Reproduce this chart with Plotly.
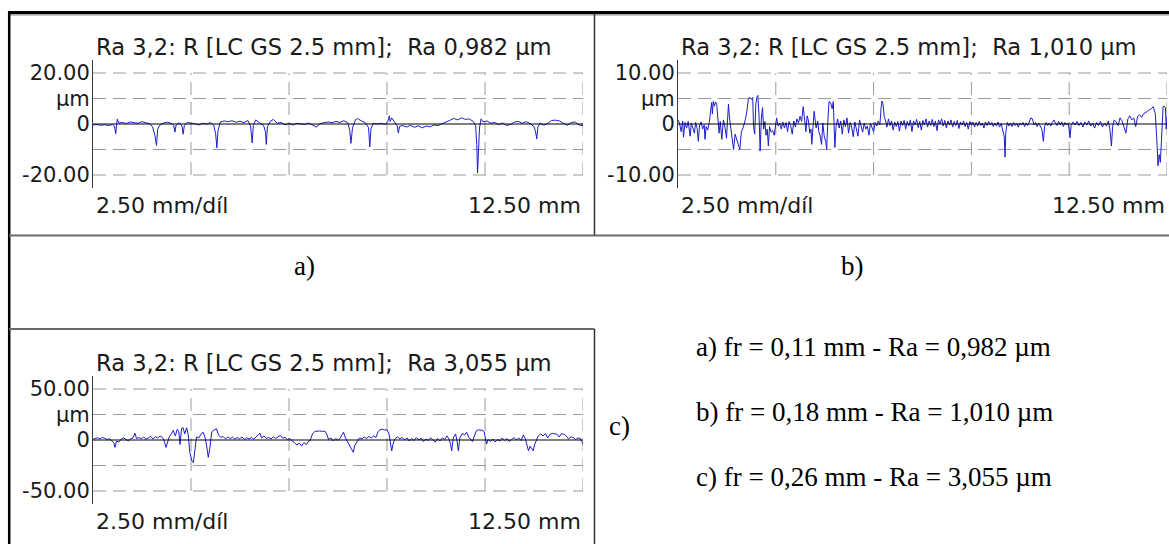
import plotly.graph_objects as go

W, H = 1169, 544

# ---------------- data (x in mm, profile height in µm) ----------------
a_x = [0.00,0.10,0.20,0.30,0.40,0.50,0.55,0.58,0.60,0.62,
       0.66,0.75,0.85,0.95,1.05,1.15,1.25,1.35,1.45,1.52,
       1.58,1.62,1.65,1.70,1.80,1.90,2.00,2.06,2.09,2.12,
       2.20,2.27,2.30,2.33,2.40,2.50,2.60,2.70,2.80,2.90,
       3.00,3.08,3.13,3.16,3.19,3.25,3.35,3.45,3.55,3.65,
       3.75,3.85,3.95,4.02,4.06,4.09,4.15,4.25,4.35,4.40,
       4.42,4.45,4.52,4.60,4.70,4.80,4.90,5.00,5.10,5.20,
       5.30,5.40,5.50,5.60,5.70,5.80,5.90,6.00,6.10,6.20,
       6.30,6.40,6.50,6.55,6.58,6.62,6.70,6.75,6.85,6.95,
       7.03,7.06,7.09,7.15,7.25,7.35,7.45,7.52,7.56,7.58,
       7.62,7.70,7.76,7.79,7.82,7.90,8.00,8.10,8.20,8.30,
       8.40,8.50,8.60,8.70,8.80,8.90,9.00,9.10,9.20,9.30,
       9.40,9.50,9.60,9.70,9.76,9.79,9.81,9.83,9.86,9.90,
       9.95,10.05,10.15,10.25,10.35,10.45,10.55,10.65,10.75,10.85,
       10.95,11.05,11.15,11.25,11.29,11.32,11.35,11.40,11.50,11.60,
       11.70,11.80,11.90,12.00,12.10,12.20,12.30,12.40,12.50]
a_y = [-0.4,-0.2,-0.5,-0.3,-0.6,-0.2,-0.8,-3.8,-0.5,1.9,
       0.4,0.6,0.2,0.8,0.5,0.3,0.9,0.4,0.1,-1.2,
       -4.5,-8.4,-2.0,-0.5,0.4,0.7,0.2,-0.6,-3.2,-0.4,
       0.5,-0.8,-4.0,-0.6,0.6,0.3,0.1,-0.4,0.3,0.0,
       0.6,-0.5,-4.0,-9.3,-2.5,0.8,1.2,0.9,1.3,0.7,
       1.1,0.5,1.4,-0.8,-7.4,-0.6,1.6,0.4,-0.5,-3.0,
       -8.0,-1.0,1.0,1.8,0.3,0.6,-0.3,0.2,-0.4,0.3,
       0.1,-0.2,0.4,-0.5,-1.2,0.2,0.6,0.8,0.5,1.0,
       0.6,1.3,0.4,-2.5,-7.6,-1.5,1.8,2.1,1.2,0.5,
       -1.5,-9.0,-2.0,0.3,0.0,0.3,-0.2,1.0,3.2,1.0,
       2.4,0.6,-0.8,-3.5,-0.9,-0.6,-1.2,-0.5,-1.3,-0.7,
       -1.5,-0.8,-1.1,-0.4,-0.6,0.1,0.6,1.4,2.2,1.6,
       2.4,1.8,2.0,1.0,-0.5,-8.0,-19.2,-12.0,-1.5,2.0,
       0.8,1.2,0.3,0.6,-0.2,0.4,-0.6,-0.2,0.8,1.0,
       0.3,0.9,0.2,-1.0,-3.0,-5.8,-1.2,0.3,-0.5,0.2,
       1.4,1.5,1.2,0.3,-0.5,0.6,0.8,-0.4,-0.6]

b_x = [0.00,0.04,0.08,0.12,0.14,0.18,0.22,0.26,0.29,0.31,
       0.34,0.38,0.42,0.45,0.49,0.52,0.55,0.59,0.63,0.67,
       0.69,0.72,0.76,0.80,0.83,0.86,0.88,0.90,0.93,0.96,
       0.99,1.02,1.05,1.08,1.12,1.16,1.20,1.24,1.27,1.29,
       1.32,1.36,1.40,1.42,1.46,1.50,1.54,1.58,1.62,1.67,
       1.72,1.76,1.80,1.84,1.88,1.91,1.93,1.96,1.99,2.02,
       2.04,2.07,2.10,2.13,2.16,2.19,2.22,2.25,2.28,2.31,
       2.34,2.38,2.42,2.46,2.50,2.52,2.56,2.60,2.64,2.68,
       2.72,2.76,2.80,2.84,2.88,2.92,2.96,3.00,3.04,3.08,
       3.12,3.16,3.20,3.23,3.27,3.30,3.33,3.37,3.40,3.42,
       3.45,3.48,3.50,3.53,3.57,3.60,3.63,3.67,3.70,3.74,
       3.78,3.80,3.83,3.86,3.90,3.94,3.97,3.99,4.01,4.04,
       4.08,4.12,4.16,4.20,4.24,4.28,4.32,4.36,4.40,4.44,
       4.48,4.52,4.56,4.60,4.64,4.68,4.72,4.76,4.80,4.84,
       4.88,4.92,4.96,5.00,5.04,5.08,5.12,5.16,5.19,5.21,
       5.24,5.27,5.30,5.34,5.38,5.42,5.46,5.50,5.54,5.58,
       5.62,5.66,5.70,5.74,5.78,5.82,5.86,5.90,5.94,5.98,
       6.02,6.06,6.10,6.14,6.18,6.22,6.26,6.30,6.34,6.38,
       6.42,6.46,6.50,6.54,6.58,6.62,6.66,6.70,6.74,6.78,
       6.82,6.86,6.90,6.94,6.98,7.02,7.06,7.10,7.14,7.18,
       7.22,7.26,7.30,7.34,7.38,7.42,7.46,7.50,7.54,7.58,
       7.62,7.66,7.70,7.74,7.78,7.82,7.86,7.90,7.94,7.98,
       8.02,8.06,8.10,8.14,8.18,8.22,8.26,8.30,8.34,8.36,
       8.38,8.42,8.46,8.50,8.54,8.58,8.62,8.66,8.70,8.74,
       8.78,8.82,8.86,8.90,8.94,8.98,9.02,9.06,9.10,9.14,
       9.18,9.22,9.26,9.30,9.34,9.37,9.41,9.45,9.49,9.53,
       9.57,9.61,9.65,9.69,9.73,9.77,9.81,9.85,9.89,9.93,
       9.97,10.00,10.02,10.05,10.10,10.15,10.20,10.25,10.30,10.35,
       10.40,10.45,10.50,10.55,10.60,10.65,10.70,10.75,10.80,10.85,
       10.90,10.95,11.00,11.04,11.08,11.11,11.15,11.20,11.25,11.30,
       11.35,11.40,11.45,11.50,11.55,11.60,11.65,11.70,11.75,11.80,
       11.85,11.90,11.95,12.00,12.05,12.10,12.15,12.20,12.24,12.27,
       12.30,12.33,12.36,12.38,12.40,12.43,12.46,12.48,12.50]
b_y = [0.8,0.2,-1.5,0.6,-2.6,0.3,-0.8,0.5,-1.2,-2.4,
       0.2,-0.6,-1.8,0.3,-0.9,-3.4,-0.4,0.4,-1.0,-0.2,
       -3.0,-0.5,-1.2,0.3,2.8,4.2,2.0,4.4,3.5,4.3,
       3.8,0.4,-1.8,0.5,-3.0,0.8,-0.6,-2.8,1.5,3.9,
       1.0,-1.4,-3.5,-5.0,-2.0,-3.2,-4.0,-5.0,-1.5,-0.6,
       0.8,2.5,5.0,5.2,4.8,5.2,-0.5,-2.0,4.0,5.3,
       5.6,2.0,-5.3,1.0,3.2,-1.0,0.5,-2.2,-1.0,-4.3,
       -0.5,-1.6,-1.3,-2.2,0.5,1.2,-0.4,0.2,-1.0,0.4,
       -0.8,0.3,-1.5,0.5,-0.3,-2.0,0.6,-0.6,1.0,0.2,
       1.5,0.5,3.4,1.0,-1.5,1.6,0.8,-1.8,-1.0,-4.0,
       0.5,2.5,1.2,-0.8,0.6,-1.5,-2.2,-4.0,0.2,-2.5,
       -3.5,-5.0,0.5,4.4,4.2,3.0,4.4,1.0,-4.6,-0.5,
       1.0,-0.8,0.6,-2.0,0.8,-0.5,1.2,-1.8,0.3,-0.6,
       -2.5,0.4,-1.2,-2.4,0.8,-0.5,-1.6,0.2,-1.0,-0.4,
       -2.2,0.1,-0.8,-1.5,0.3,-0.4,0.6,-0.2,3.0,4.5,
       4.0,1.5,0.8,-0.6,1.0,-0.3,0.6,-1.2,0.4,-0.5,
       0.5,-1.4,0.6,-0.3,0.7,-1.0,0.5,-0.4,0.8,-1.5,
       0.6,-0.2,0.9,-0.7,0.5,-1.2,0.7,-0.2,1.0,-0.6,
       0.6,-0.3,0.9,-0.5,0.6,-1.3,0.8,0.0,1.0,-0.4,
       0.7,-0.8,0.6,-0.2,0.8,-0.6,0.5,-0.3,0.7,-0.9,
       0.4,-0.2,0.6,-0.5,0.3,-1.0,0.5,-0.2,0.4,-0.6,
       0.3,-0.4,0.5,-0.3,0.2,-0.8,0.4,-0.3,0.5,-0.2,
       0.3,-0.5,0.2,-0.4,0.4,-0.6,0.1,-1.0,-2.5,-6.5,
       -1.5,0.3,-0.4,0.2,-0.5,0.3,-0.3,0.1,-0.6,0.2,
       -0.2,0.3,-0.5,0.2,-0.3,0.4,1.2,1.0,-0.2,0.3,
       -0.5,0.2,-0.6,-1.0,-3.4,-0.5,0.3,-0.3,0.2,-0.4,
       0.3,0.8,0.2,-0.3,0.5,-0.2,0.4,-0.5,0.3,-0.2,
       0.2,-1.0,-2.7,-0.3,0.4,-0.2,0.5,-0.3,0.3,-0.6,
       0.4,-0.2,0.6,-0.4,0.2,-0.8,0.3,-0.3,0.5,-0.6,
       0.2,-0.4,0.6,-1.0,-4.3,-0.5,0.8,0.4,-0.3,1.2,
       0.6,-0.8,-1.8,1.0,1.6,0.8,1.2,-0.5,1.5,1.8,
       1.3,2.0,2.2,2.5,2.8,3.0,3.4,2.0,-3.0,-8.2,
       -6.0,-7.5,-3.0,1.0,3.4,3.5,3.2,-1.0,1.5]

c_x = [0.00,0.06,0.12,0.18,0.24,0.30,0.36,0.42,0.48,0.53,
       0.56,0.60,0.66,0.72,0.78,0.84,0.90,0.96,1.02,1.07,
       1.11,1.17,1.23,1.29,1.35,1.41,1.47,1.53,1.59,1.65,
       1.71,1.77,1.82,1.86,1.90,1.95,2.00,2.05,2.10,2.15,
       2.19,2.22,2.26,2.30,2.34,2.39,2.43,2.47,2.52,2.56,
       2.60,2.64,2.70,2.76,2.81,2.86,2.90,2.94,2.98,3.03,
       3.09,3.15,3.20,3.26,3.32,3.38,3.44,3.50,3.56,3.62,
       3.68,3.74,3.80,3.86,3.92,3.98,4.04,4.10,4.16,4.22,
       4.26,4.30,4.36,4.42,4.48,4.54,4.60,4.66,4.72,4.78,
       4.84,4.90,4.96,5.02,5.08,5.14,5.20,5.26,5.32,5.38,
       5.44,5.50,5.54,5.60,5.66,5.71,5.78,5.85,5.92,5.96,
       6.01,6.07,6.13,6.19,6.25,6.31,6.36,6.39,6.44,6.50,
       6.56,6.61,6.64,6.68,6.74,6.80,6.86,6.92,6.98,7.04,
       7.10,7.16,7.22,7.27,7.32,7.38,7.44,7.50,7.55,7.59,
       7.62,7.66,7.71,7.77,7.83,7.89,7.95,8.01,8.07,8.13,
       8.19,8.25,8.31,8.37,8.43,8.49,8.55,8.61,8.67,8.73,
       8.79,8.85,8.91,8.97,9.03,9.08,9.12,9.15,9.19,9.25,
       9.29,9.32,9.36,9.42,9.48,9.53,9.58,9.63,9.68,9.73,
       9.78,9.83,9.88,9.93,9.98,10.02,10.04,10.08,10.14,10.20,
       10.26,10.32,10.38,10.44,10.50,10.56,10.62,10.68,10.74,10.80,
       10.86,10.92,10.98,11.03,11.07,11.11,11.15,11.19,11.23,11.27,
       11.31,11.36,11.42,11.48,11.54,11.60,11.66,11.72,11.78,11.83,
       11.89,11.95,12.01,12.07,12.13,12.19,12.25,12.31,12.37,12.43,
       12.47,12.50]
c_y = [0.8,1.5,2.2,1.0,2.5,1.8,0.4,1.2,-0.5,-2.5,
       -7.3,-1.0,-2.0,1.0,2.0,0.5,-0.8,1.2,2.0,6.7,
       1.5,2.4,1.2,2.8,0.8,2.0,3.5,1.0,3.2,2.0,
       4.0,2.5,-1.0,-7.3,-1.5,3.5,6.0,9.5,4.0,10.5,
       8.0,-4.5,11.5,12.0,6.0,12.0,5.0,-12.0,-20.0,-22.0,
       -10.0,3.0,2.0,6.0,7.7,2.0,-6.0,-17.0,-8.0,8.0,
       10.0,11.0,5.0,2.5,3.5,1.0,3.0,1.5,2.8,0.8,
       2.5,1.2,3.0,0.5,2.2,1.0,2.6,0.8,3.0,5.0,
       6.7,2.0,4.0,1.5,2.6,1.0,3.2,1.5,2.8,4.5,
       1.8,2.5,0.5,1.5,-1.0,-2.5,-5.0,-3.0,-5.7,-2.5,
       -4.5,-1.0,-0.5,6.0,8.5,8.7,8.8,8.5,8.6,6.0,
       0.5,2.0,-1.0,1.5,-0.5,2.0,6.5,7.7,2.0,-2.0,
       -6.0,-10.0,-12.0,-5.0,-1.0,2.0,1.0,3.0,1.5,3.5,
       2.0,4.0,2.5,8.0,10.0,10.5,9.8,10.0,6.0,-4.0,
       -10.7,-3.0,1.5,3.0,1.0,2.5,0.0,2.0,-1.0,1.5,
       -0.5,2.5,0.0,1.8,-1.5,1.0,-0.5,2.2,0.0,-2.0,
       1.5,-1.0,2.0,0.5,4.0,1.0,-4.0,-10.7,2.0,6.0,
       -2.0,-10.7,2.0,6.5,5.0,7.7,3.0,0.5,-1.5,4.0,
       9.0,10.0,10.0,9.5,8.0,-2.0,-4.0,0.5,-1.5,1.0,
       -2.0,0.5,-1.0,2.0,-0.5,1.5,-1.5,0.5,2.5,0.0,
       2.0,-0.5,5.0,1.0,-6.0,-10.7,-6.0,-9.0,-10.5,-4.0,
       0.5,4.0,6.0,4.0,6.2,2.0,5.5,6.5,6.0,6.0,
       3.0,6.0,5.8,4.0,1.0,3.0,2.5,0.5,2.0,1.5,
       -1.5,-4.0]

titles = ["Ra 3,2: R [LC GS 2.5 mm];\u00a0 Ra 0,982 µm",
          "Ra 3,2: R [LC GS 2.5 mm];\u00a0 Ra 1,010 µm",
          "Ra 3,2: R [LC GS 2.5 mm];\u00a0 Ra 3,055 µm"]
grid_steps = [10, 5, 25]              # µm per vertical division
x_divs = [2.5, 5.0, 7.5, 10.0, 12.5]  # mm
x_left_label = "2.50 mm/díl"
x_right_label = "12.50 mm"
panel_labels = ["a)", "b)", "c)"]
summary = ["a) fr = 0,11 mm - Ra = 0,982 µm",
           "b) fr = 0,18 mm - Ra = 1,010 µm",
           "c) fr = 0,26 mm - Ra = 3,055 µm"]

# ---------------- layout helpers (window pixels -> paper) ----------------
def fx(px):
    return px / W

def fy(py):
    return 1 - py / H

SANS = "DejaVu Sans"
SERIF = "Liberation Serif"
TXT = "#1a1a1a"
# window-pixel boxes of the three plot areas: x0, x1, ytop, ybottom
boxes = [(93, 583, 60.25, 187.75), (678, 1167, 60.25, 187.75), (93, 583, 376.25, 503.75)]
series = [(a_x, a_y), (b_x, b_y), (c_x, c_y)]

fig = go.Figure()
shapes = []
annotations = []

for i, ((x0, x1, yt, yb), (xs, ys), step, title) in enumerate(zip(boxes, series, grid_steps, titles)):
    n = "" if i == 0 else str(i + 1)
    fig.add_trace(go.Scatter(x=xs, y=ys, mode="lines", xaxis="x" + n, yaxis="y" + n,
                             line=dict(color="#1c1ccc", width=1), showlegend=False,
                             hoverinfo="skip"))
    fig.layout["xaxis" + n] = dict(domain=[fx(x0), fx(x1)], range=[0, 12.5], anchor="y" + n,
                                   showgrid=False, zeroline=False, showticklabels=False,
                                   showline=False, ticks="", fixedrange=True)
    fig.layout["yaxis" + n] = dict(domain=[fy(yb), fy(yt)], range=[-2.5 * step, 2.5 * step],
                                   anchor="x" + n, showgrid=False, zeroline=False,
                                   showline=True, linecolor="#3a3a3a", linewidth=1,
                                   ticks="", tickvals=[2 * step, step, 0, -2 * step],
                                   ticktext=[f"{2 * step:.2f}", "µm", "0", f"-{2 * step:.2f}"],
                                   tickfont=dict(family=SANS, size=21, color=TXT),
                                   ticklabelstandoff=-2, fixedrange=True)
    xr, yr = "x" + n, "y" + n
    dash = dict(color="#9a9a9a", width=1, dash="13px,7px")
    for k in (2, 1, -1, -2):
        shapes.append(dict(type="line", xref=xr, yref=yr, x0=0, x1=12.5, y0=k * step, y1=k * step,
                           line=dash, layer="below"))
    for xv in x_divs:
        shapes.append(dict(type="line", xref=xr, yref=yr, x0=xv, x1=xv, y0=-2 * step, y1=2 * step,
                           line=dash, layer="below"))
    shapes.append(dict(type="line", xref=xr, yref=yr, x0=0, x1=12.5, y0=0, y1=0,
                       line=dict(color="#000000", width=1), layer="above"))
    annotations.append(dict(text=title, x=fx(x0 + 1), y=fy(yt - 13), xref="paper", yref="paper",
                            xanchor="left", yanchor="middle", showarrow=False,
                            font=dict(family=SANS, size=22.6, color=TXT)))
    annotations.append(dict(text=x_left_label, x=fx(x0 + 1), y=fy(yb + 18), xref="paper", yref="paper",
                            xanchor="left", yanchor="middle", showarrow=False,
                            font=dict(family=SANS, size=22, color=TXT)))
    annotations.append(dict(text=x_right_label, x=fx(x1), y=fy(yb + 18), xref="paper", yref="paper",
                            xanchor="right", yanchor="middle", showarrow=False,
                            font=dict(family=SANS, size=22, color=TXT)))

# frame lines of the figure
def pline(x0, y0, x1, y1, color, width):
    shapes.append(dict(type="line", xref="paper", yref="paper", x0=fx(x0), y0=fy(y0),
                       x1=fx(x1), y1=fy(y1), line=dict(color=color, width=width), layer="above"))

pline(8, 12.5, 1169, 12.5, "#000000", 3)
pline(8, 14.8, 1169, 14.8, "#8a8a8a", 1.2)
pline(9.2, 11, 9.2, 544, "#000000", 2.5)
pline(9, 235.5, 1169, 235.5, "#6a6a6a", 2)
pline(594.5, 14, 594.5, 235, "#333333", 1.5)
pline(9, 329, 594.5, 329, "#6a6a6a", 2)
pline(594.5, 329, 594.5, 544, "#333333", 1.5)

# panel letters and summary text
for lab, cx, cy in zip(panel_labels, [304, 852, 619], [266, 266, 426]):
    annotations.append(dict(text=lab, x=fx(cx), y=fy(cy), xref="paper", yref="paper",
                            xanchor="center", yanchor="middle", showarrow=False,
                            font=dict(family=SERIF, size=27, color="#000000")))
for line, cy in zip(summary, [347, 412, 477]):
    annotations.append(dict(text=line, x=fx(694), y=fy(cy), xref="paper", yref="paper",
                            xanchor="left", yanchor="middle", showarrow=False,
                            font=dict(family=SERIF, size=27, color="#000000")))

fig.update_layout(width=W, height=H, margin=dict(l=0, r=0, t=0, b=0),
                  paper_bgcolor="white", plot_bgcolor="rgba(0,0,0,0)",
                  shapes=shapes, annotations=annotations, showlegend=False)

fig.write_html("out.html", config={"displayModeBar": False},
               post_script="document.body.style.margin='0';document.body.style.overflow='hidden';")
